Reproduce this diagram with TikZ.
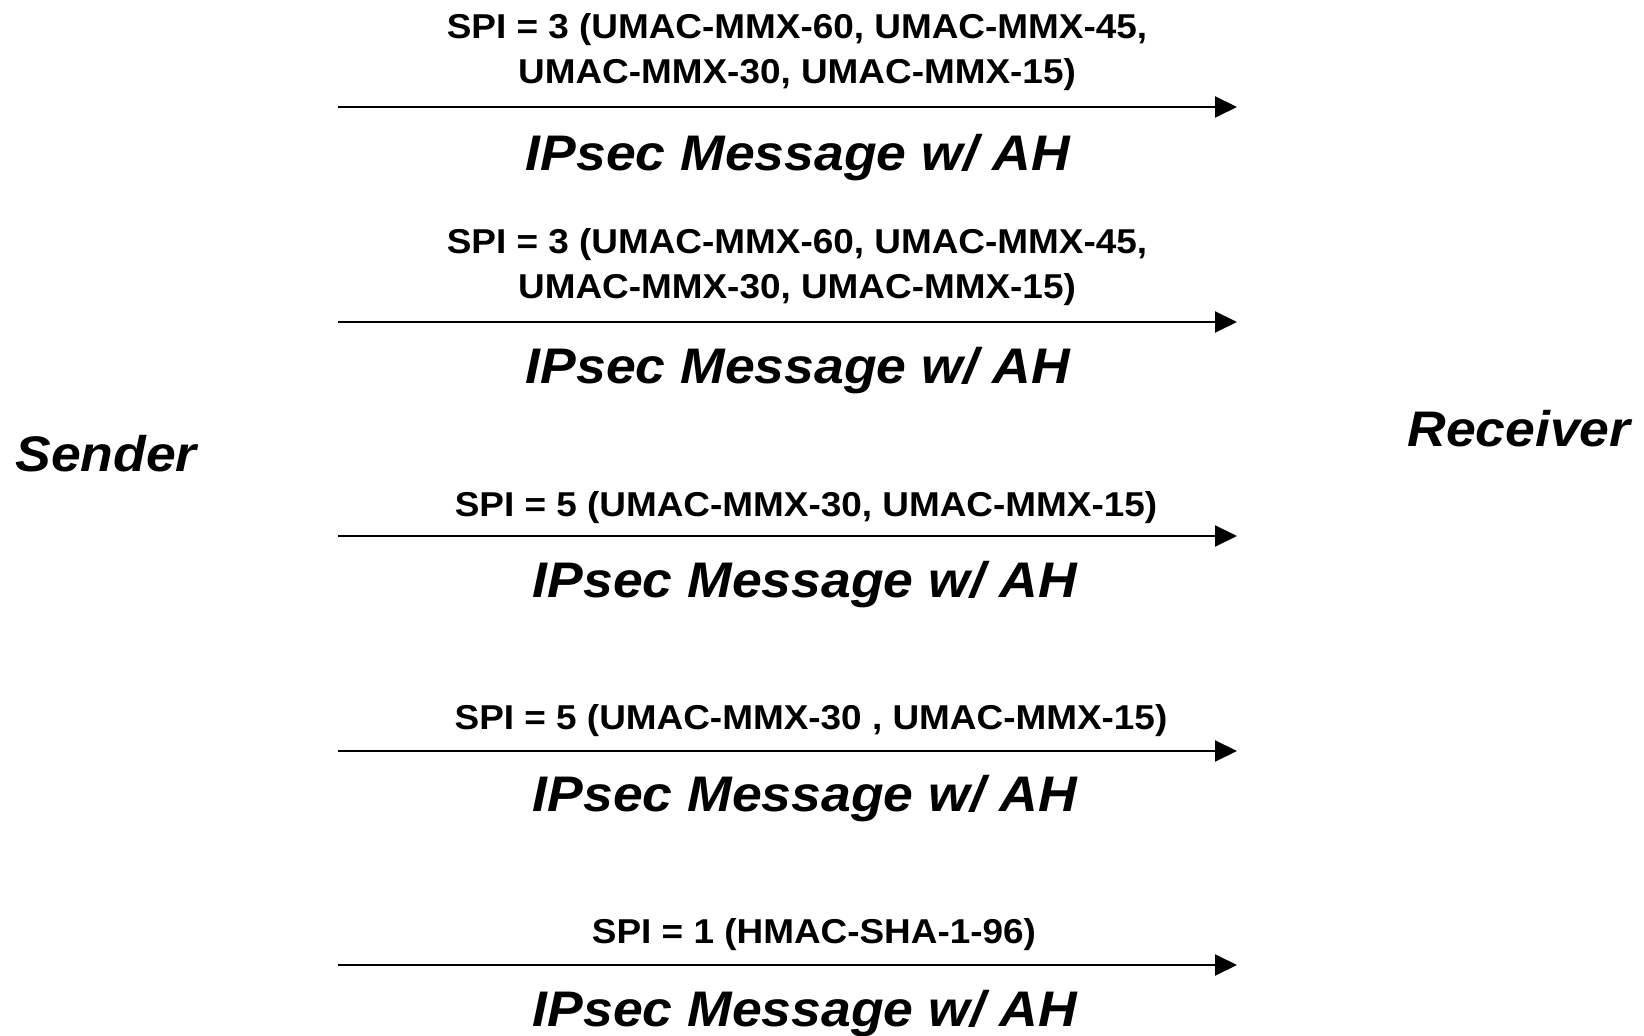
\documentclass[tikz,border=0pt]{standalone}
\usepackage{fontspec}
\setmainfont{Liberation Sans}
\newfontfamily\lblfont[FakeStretch=1.07]{Liberation Sans}
\usetikzlibrary{arrows.meta}
\begin{document}
\begin{tikzpicture}[x=0.5pt,y=-0.5pt,
  spilabel/.style={font=\lblfont\bfseries\fontsize{17.25}{22.5}\selectfont, inner sep=0pt, anchor=base, align=center},
  msglabel/.style={font=\lblfont\bfseries\itshape\fontsize{25}{30}\selectfont, inner sep=0pt, anchor=base},
  party/.style={font=\lblfont\bfseries\itshape\fontsize{25}{30}\selectfont, inner sep=0pt, anchor=base west},
  msgarrow/.style={line width=1pt, -{Triangle[length=11pt,width=10.5pt]}}]
\useasboundingbox (0,0) rectangle (1644,1036);

\node[party] (sender) at (15,472) {Sender};
\node[party] (receiver) at (1407,447) {Receiver};

% group 1
\coordinate (s1) at (338,107); \coordinate (r1) at (1237,107);
\draw[msgarrow] (s1) -- (r1);
\node[spilabel] (spi1) at (797,84) {SPI = 3 (UMAC-MMX-60, UMAC-MMX-45,\\UMAC-MMX-30, UMAC-MMX-15)};
\node[msglabel] (msg1) at (798,171) {IPsec Message w/ AH};

% group 2
\coordinate (s2) at (338,322); \coordinate (r2) at (1237,322);
\draw[msgarrow] (s2) -- (r2);
\node[spilabel] (spi2) at (797,299) {SPI = 3 (UMAC-MMX-60, UMAC-MMX-45,\\UMAC-MMX-30, UMAC-MMX-15)};
\node[msglabel] (msg2) at (798,384) {IPsec Message w/ AH};

% group 3
\coordinate (s3) at (338,536); \coordinate (r3) at (1237,536);
\draw[msgarrow] (s3) -- (r3);
\node[spilabel] (spi3) at (806,517) {SPI = 5 (UMAC-MMX-30, UMAC-MMX-15)};
\node[msglabel] (msg3) at (805,598) {IPsec Message w/ AH};

% group 4
\coordinate (s4) at (338,751); \coordinate (r4) at (1237,751);
\draw[msgarrow] (s4) -- (r4);
\node[spilabel] (spi4) at (811,730) {SPI = 5 (UMAC-MMX-30 , UMAC-MMX-15)};
\node[msglabel] (msg4) at (805,812) {IPsec Message w/ AH};

% group 5
\coordinate (s5) at (338,965); \coordinate (r5) at (1237,965);
\draw[msgarrow] (s5) -- (r5);
\node[spilabel] (spi5) at (814,943) {SPI = 1 (HMAC-SHA-1-96)};
\node[msglabel] (msg5) at (805,1026) {IPsec Message w/ AH};
\end{tikzpicture}
\end{document}
